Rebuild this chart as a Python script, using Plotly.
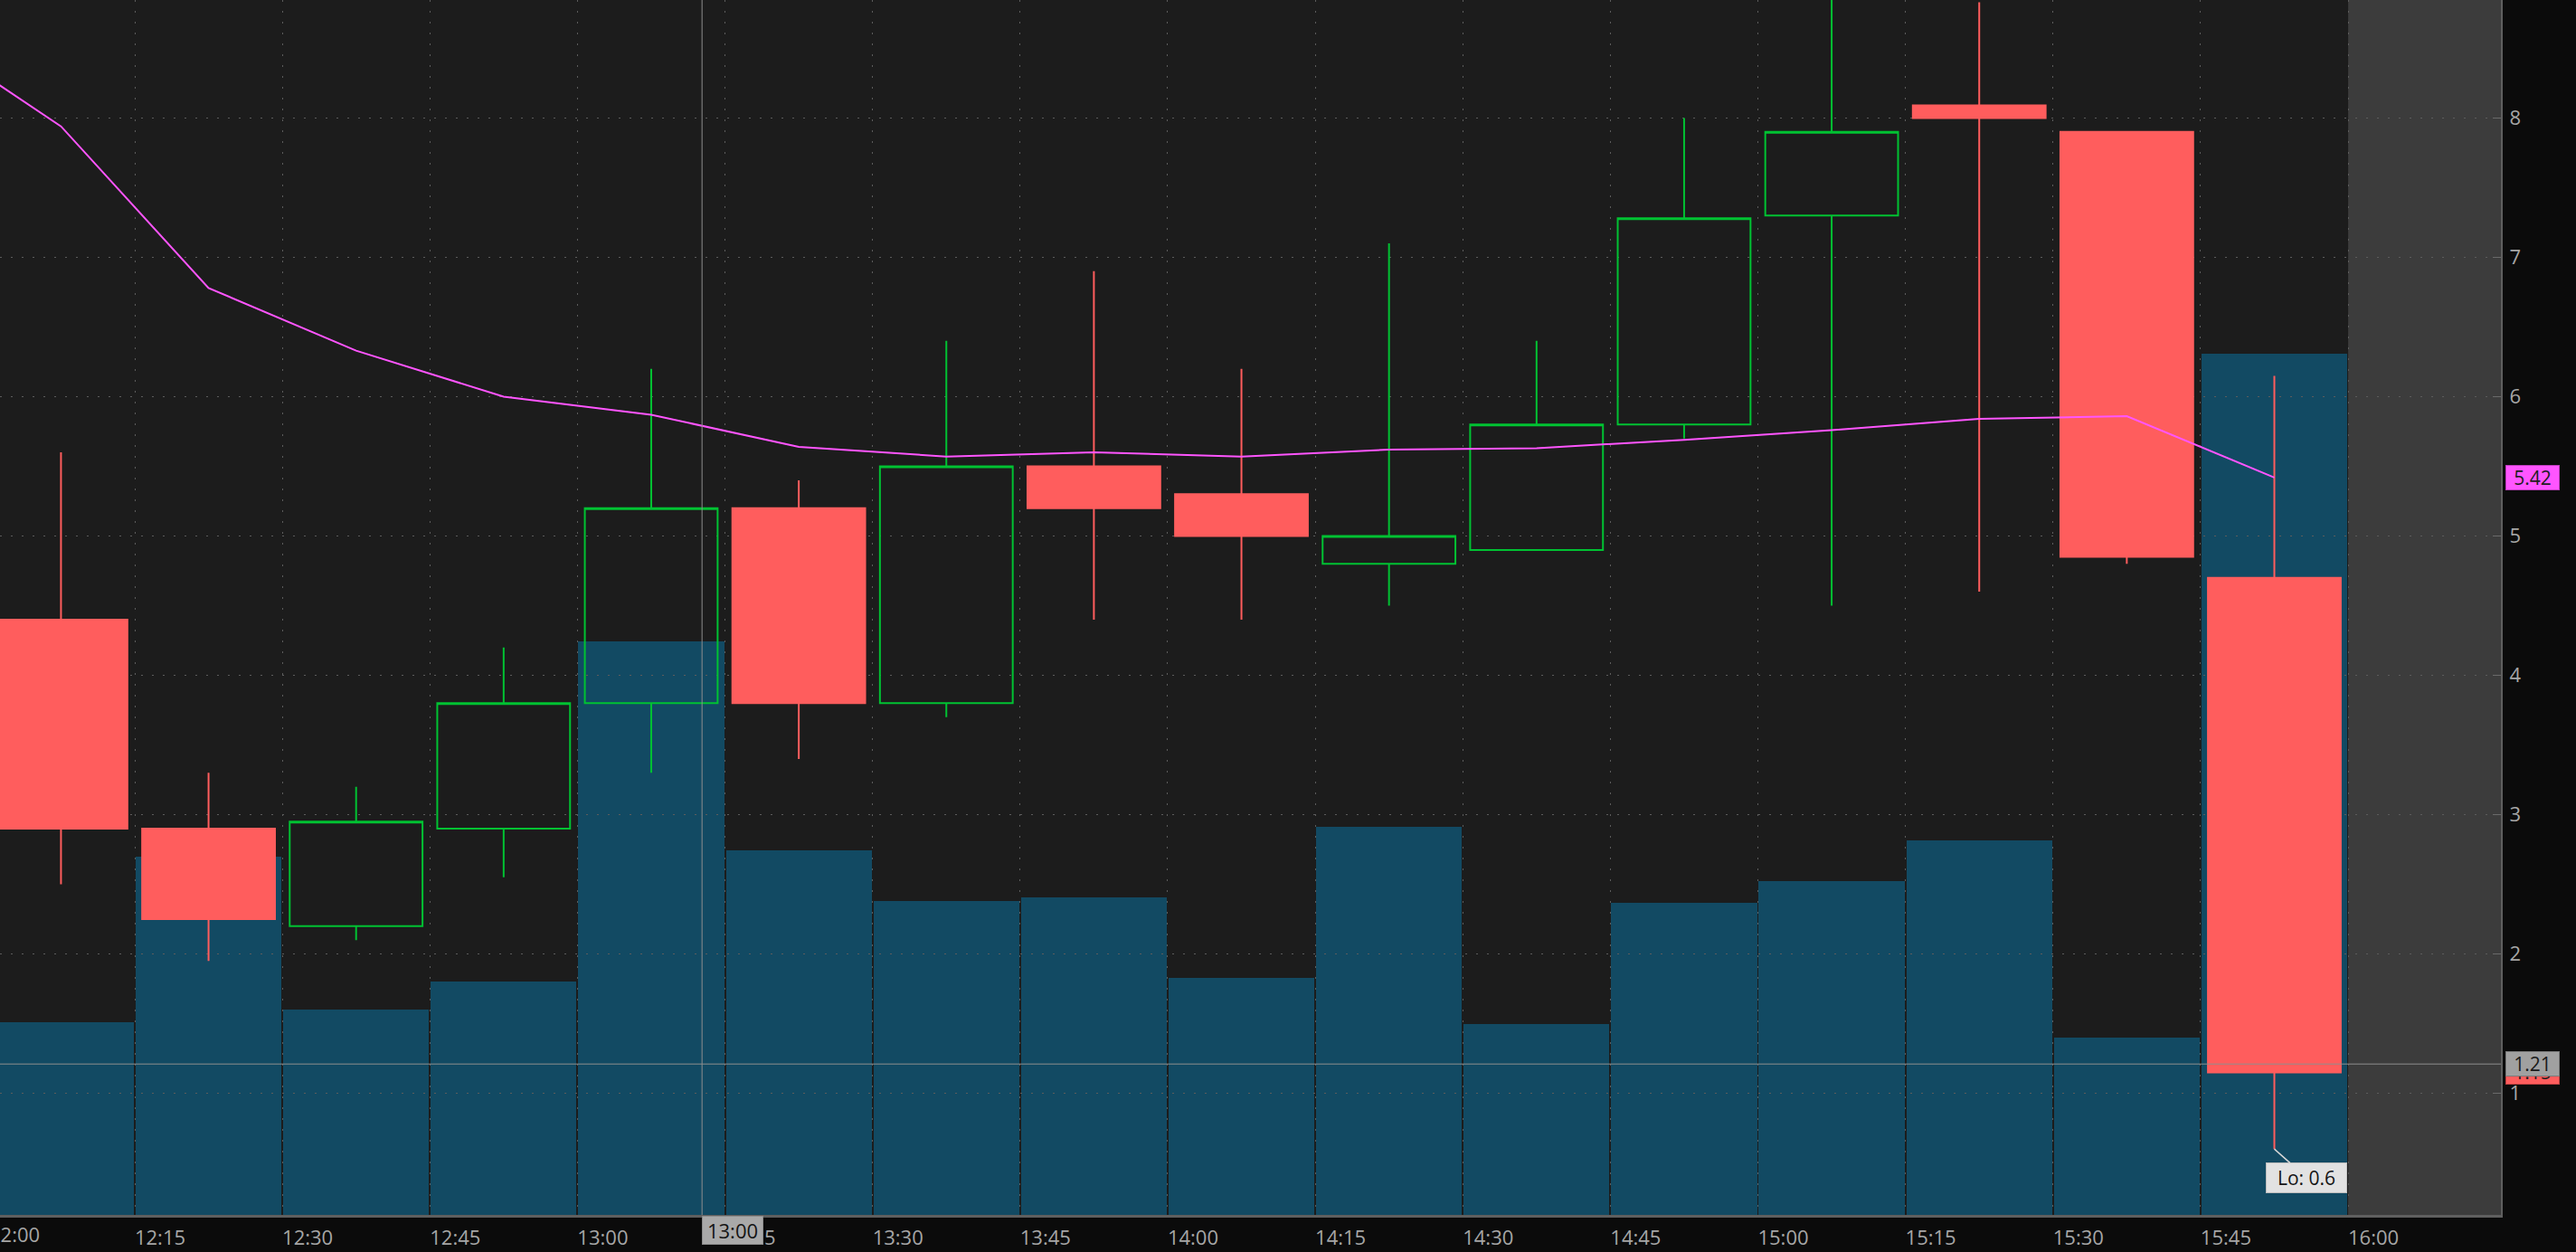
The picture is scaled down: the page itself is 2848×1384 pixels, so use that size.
import pandas as pd
import plotly.graph_objects as go

# ---------------- data ----------------
session_date = "2024-01-05"
times = ["12:00", "12:15", "12:30", "12:45", "13:00", "13:15", "13:30", "13:45",
         "14:00", "14:15", "14:30", "14:45", "15:00", "15:15", "15:30", "15:45"]
opens = [4.40, 2.90, 2.20, 2.90, 3.80, 5.20, 3.80, 5.50, 5.30, 4.80, 4.90, 5.80, 7.30, 8.09, 7.90, 4.70]
highs = [5.60, 3.30, 3.20, 4.20, 6.20, 5.40, 6.40, 6.90, 6.20, 7.10, 6.40, 8.00, 9.00, 8.83, 7.90, 6.15]
lows = [2.50, 1.95, 2.10, 2.55, 3.30, 3.40, 3.70, 4.40, 4.40, 4.50, 4.90, 5.70, 4.50, 4.60, 4.80, 0.60]
closes = [2.90, 2.25, 2.95, 3.80, 5.20, 3.80, 5.50, 5.20, 5.00, 5.00, 5.80, 7.28, 7.90, 8.00, 4.85, 1.15]
volumes = [1170, 2180, 1250, 1420, 3490, 2220, 1910, 1930, 1440, 2360, 1160, 1900, 2030, 2280, 1080, 5240]
ma_times = ["11:45"] + times
ma_values = [8.65, 7.94, 6.78, 6.33, 6.00, 5.87, 5.64, 5.57, 5.60, 5.57, 5.62, 5.63, 5.69, 5.76, 5.84, 5.86, 5.42]
tick_times = ["12:00", "12:15", "12:30", "12:45", "13:00", "13:15", "13:30", "13:45", "14:00",
              "14:15", "14:30", "14:45", "15:00", "15:15", "15:30", "15:45", "16:00"]
price_ticks = [1, 2, 3, 4, 5, 6, 7, 8]
view_start, view_end = "12:01:18", "16:15:32"
price_range = [0.127, 8.847]
volume_max = 7390
session_close = "16:00"
crosshair_time, crosshair_bar, crosshair_price = "13:12:40", "13:00", 1.21
last_ma_label, last_close_label = "5.42", "1.15"
low_label = "Lo: 0.6"

# ---------------- styles ----------------
PAPER = "#0b0b0b"
PLOT_BG = "#1c1c1c"
FUTURE_BG = "#3c3c3c"
GRID = "#5c5c5c"
VOL = "#124a63"
GREEN = "#00c232"
RED = "#ff5d5d"
MAGENTA = "#ff55ff"
TXT = "#a6a6a6"
FONT = "Open Sans"


def ts(s):
    return pd.Timestamp(f"{session_date} {s}")


period = pd.Timedelta(minutes=15)
t_start = pd.to_datetime([f"{session_date} {s}" for s in times])
t_mid = t_start + period / 2
ma_mid = pd.to_datetime([f"{session_date} {s}" for s in ma_times]) + period / 2
tick_vals = pd.to_datetime([f"{session_date} {s}" for s in tick_times])
x0, x1 = ts(view_start), ts(view_end)

fig = go.Figure()

# volume (lower subplot, drawn first)
fig.add_trace(go.Bar(
    x=t_mid, y=volumes, xaxis="x", yaxis="y",
    marker=dict(color=VOL, line=dict(width=0)),
    width=period.total_seconds() * 1000 * 0.988,
    hoverinfo="skip", showlegend=False,
))

# candles
fig.add_trace(go.Candlestick(
    x=t_mid, open=opens, high=highs, low=lows, close=closes,
    xaxis="x2", yaxis="y2",
    increasing=dict(line=dict(color=GREEN, width=2), fillcolor="rgba(0,0,0,0)"),
    decreasing=dict(line=dict(color=RED, width=2), fillcolor=RED),
    whiskerwidth=0, showlegend=False, hoverinfo="skip",
))

# moving average
fig.add_trace(go.Scatter(
    x=ma_mid, y=ma_values, mode="lines", xaxis="x2", yaxis="y2",
    line=dict(color=MAGENTA, width=2), showlegend=False, hoverinfo="skip",
))

span = (x1 - x0).total_seconds()
x_first_label = (tick_vals[0] - x0).total_seconds() / span

fig.update_layout(
    width=2848, height=1384,
    margin=dict(l=0, r=83, t=0, b=41),
    paper_bgcolor=PAPER, plot_bgcolor="rgba(0,0,0,0)",
    font=dict(family=FONT, size=22, color=TXT),
    boxgap=0.1, boxgroupgap=0, bargap=0,
    showlegend=False,
    xaxis=dict(type="date", range=[x0, x1], visible=False, showgrid=False,
               domain=[0, 1], anchor="y", fixedrange=True),
    yaxis=dict(range=[0, volume_max], visible=False, showgrid=False,
               domain=[0, 1], anchor="x", fixedrange=True),
    xaxis2=dict(type="date", range=[x0, x1], domain=[0, 1], anchor="y2",
                tickmode="array", tickvals=tick_vals, ticktext=tick_times,
                ticklabelshift=28, ticklabelstandoff=4, ticks="",
                showgrid=True, gridcolor=GRID, griddash="2px,10px", gridwidth=1,
                showline=True, linecolor="#5f5f5f", linewidth=3,
                rangeslider=dict(visible=False), zeroline=False,
                tickfont=dict(family=FONT, size=22, color=TXT), fixedrange=True),
    yaxis2=dict(range=price_range, domain=[0, 1], anchor="x2", side="right",
                tickmode="array", tickvals=price_ticks,
                ticks="inside", ticklen=9, tickcolor="#6a6a6a", tickwidth=1,
                ticklabelstandoff=3,
                showgrid=True, gridcolor=GRID, griddash="2px,10px", gridwidth=1,
                showline=True, linecolor="#5f5f5f", linewidth=2, zeroline=False,
                tickfont=dict(family=FONT, size=22, color=TXT), fixedrange=True),
)

# backgrounds
fig.add_shape(type="rect", xref="paper", yref="paper", x0=0, x1=1, y0=0, y1=1,
              fillcolor=PLOT_BG, line=dict(width=0), layer="below")
fig.add_shape(type="rect", xref="x2", yref="paper", x0=ts(session_close), x1=x1, y0=0, y1=1,
              fillcolor=FUTURE_BG, line=dict(width=0), layer="below")

# crosshair
fig.add_shape(type="line", xref="x2", yref="paper", x0=ts(crosshair_time), x1=ts(crosshair_time),
              y0=0, y1=1, line=dict(color="#8f8f8f", width=1), layer="above")
fig.add_shape(type="line", xref="paper", yref="y2", x0=0, x1=1, y0=crosshair_price, y1=crosshair_price,
              line=dict(color="#8f8f8f", width=1), layer="above")

# annotations
fig.add_annotation(xref="paper", yref="paper", x=x_first_label, y=0, xanchor="left", yanchor="top",
                   yshift=-4, text=tick_times[0], showarrow=False,
                   font=dict(family=FONT, size=22, color=TXT))
fig.add_annotation(xref="x2", yref="paper", x=ts(crosshair_time), y=0, xanchor="left", yanchor="top",
                   xshift=0, yshift=-1, text=crosshair_bar, showarrow=False,
                   bgcolor="#a9a9a9", bordercolor="#8c8c8c", borderwidth=1, borderpad=2,
                   width=62, height=26, font=dict(family=FONT, size=22, color="#141414"))
fig.add_annotation(xref="paper", yref="y2", x=1, y=ma_values[-1], xanchor="left", yanchor="middle",
                   xshift=5, text=last_ma_label, showarrow=False,
                   bgcolor=MAGENTA, bordercolor="#c03cc0", borderwidth=1, borderpad=1,
                   width=56, height=24, font=dict(family=FONT, size=21, color="#1e1e1e"))
fig.add_annotation(xref="paper", yref="y2", x=1, y=closes[-1], xanchor="left", yanchor="middle",
                   xshift=5, text=f"{closes[-1]:.2f}", showarrow=False,
                   bgcolor=RED, bordercolor="#c04040", borderwidth=1, borderpad=1,
                   width=56, height=24, font=dict(family=FONT, size=21, color="#1e1e1e"))
fig.add_annotation(xref="paper", yref="y2", x=1, y=crosshair_price, xanchor="left", yanchor="middle",
                   xshift=5, text=f"{crosshair_price:.2f}", showarrow=False,
                   bgcolor="#a0a0a0", bordercolor="#7a7a7a", borderwidth=1, borderpad=1,
                   width=56, height=24, font=dict(family=FONT, size=21, color="#1a1a1a"))
fig.add_annotation(xref="x2", yref="y2", x=t_mid[-1], y=lows[-1], text=low_label,
                   showarrow=True, arrowhead=0, arrowwidth=1.5, arrowcolor="#d8d8d8",
                   ax=36, ay=32, standoff=0,
                   bgcolor="#e2e2e2", bordercolor="#bdbdbd", borderwidth=1, borderpad=2,
                   width=84, height=28, font=dict(family=FONT, size=21, color="#151515"))

fig.write_html(
    "out.html",
    config={"displayModeBar": False, "staticPlot": True},
    post_script="document.body.style.margin='0';document.body.style.overflow='hidden';",
)
